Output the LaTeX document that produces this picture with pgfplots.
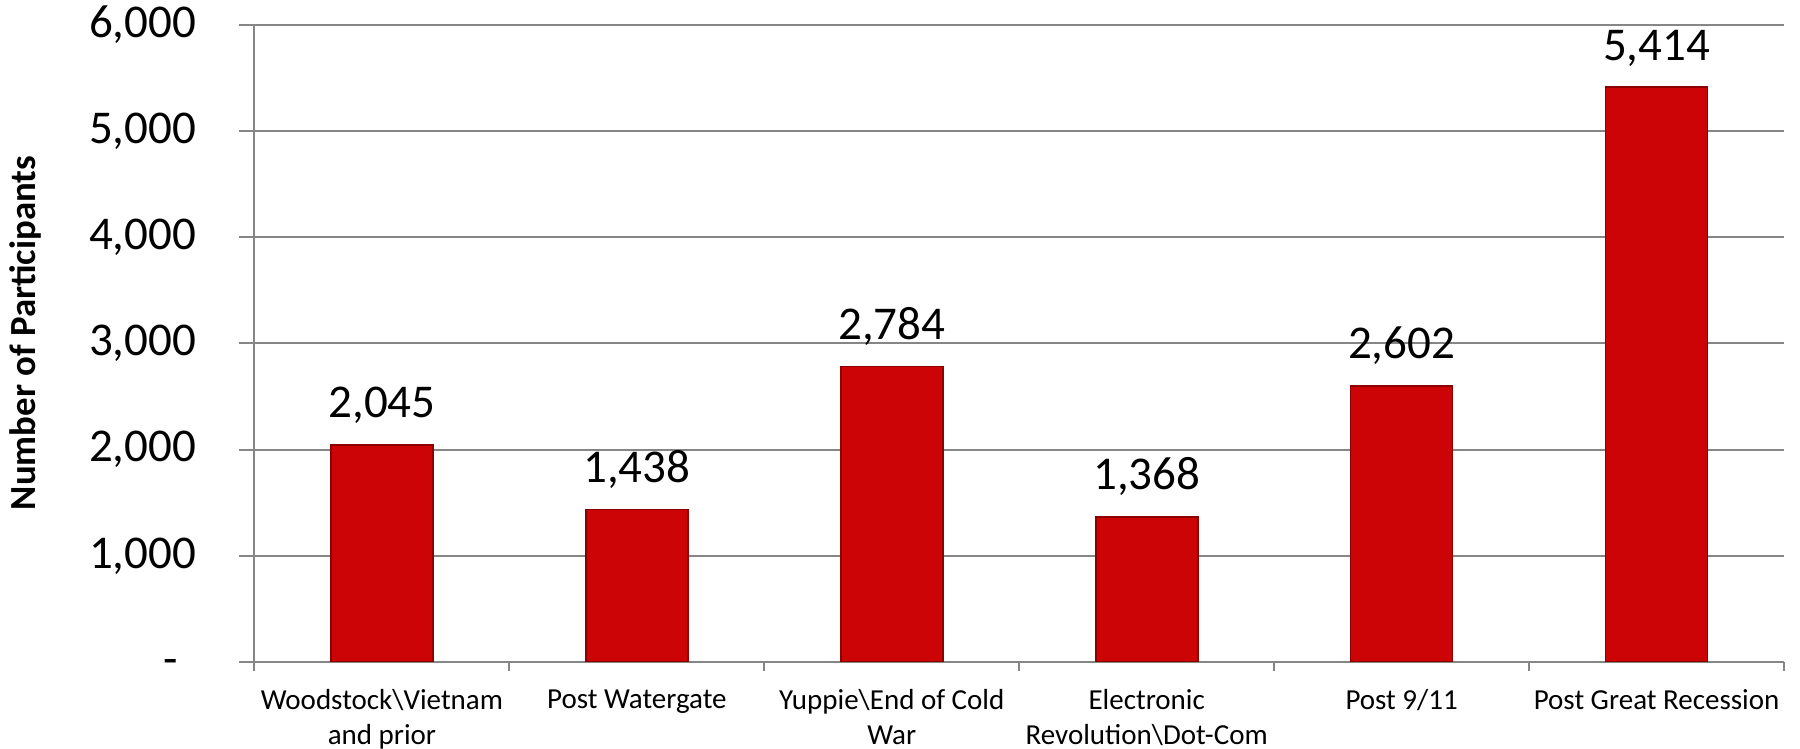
\documentclass[border=0pt]{standalone}
\usepackage{fontspec}
\setmainfont{Carlito}
\usepackage{pgfplots}
\pgfplotsset{compat=1.18}
\definecolor{gridgray}{RGB}{134,134,134}
\definecolor{barred}{RGB}{204,4,6}
\definecolor{baredge}{RGB}{140,0,0}
\begin{document}
\begin{tikzpicture}
\begin{axis}[
  scale only axis, width=382.4pt, height=159.25pt,
  xmin=-0.5, xmax=5.5, ymin=0, ymax=6000,
  ybar, bar width=0.4,
  axis x line*=bottom, axis y line*=left,
  axis line style={gridgray, line width=0.5pt},
  ymajorgrids, grid style={gridgray, line width=0.5pt},
  tick align=outside, major tick length=3.9pt,
  ytick={0,1000,2000,3000,4000,5000,6000},
  yticklabels={{\smash{-}\rule[0.2pt]{0pt}{6pt}\rule{4.6pt}{0pt}},{1,000},{2,000},{3,000},{4,000},{5,000},{6,000}},
  ytick style={draw=gridgray, line width=0.5pt},
  yticklabel style={font=\fontsize{11.75}{14}\selectfont, inner sep=0pt, anchor=east},
  yticklabel shift=10.5pt,
  xtick={0,1,2,3,4,5},
  xticklabels={{Woodstock\textbackslash Vietnam\\and prior},{Post Watergate},{Yuppie\textbackslash End of Cold\\War},{Electronic\\Revolution\textbackslash Dot-Com},{Post 9/11},{Post Great Recession}},
  xtick style={draw=none},
  xticklabel style={font=\fontsize{7.25}{8.75}\selectfont, align=center, inner sep=0pt, anchor=north},
  xticklabel shift=2.8pt,
  extra x ticks={-0.5,0.5,1.5,2.5,3.5,4.5,5.5},
  extra x tick labels={},
  extra x tick style={major tick length=2.25pt, xtick style={draw=gridgray, line width=0.5pt}},
  ylabel={\bfseries Number of Participants},
  every axis y label/.style={at={(axis description cs:-0.15,0.5165)}, rotate=90, anchor=center, font=\fontsize{9.2}{11}\selectfont},
  nodes near coords,
  /pgf/number format/.cd, 1000 sep={,}, assume math mode=true, /pgfplots/.cd,
  every node near coord/.append style={anchor=base, yshift=6.75pt, font=\fontsize{11.75}{14}\selectfont, text=black},
]
\addplot[fill=barred, draw=baredge, line width=0.4pt] coordinates {
 (0,2045) (1,1438) (2,2784) (3,1368) (4,2602) (5,5414)
};
\end{axis}
\pgfresetboundingbox
\path[use as bounding box] ([xshift=-63.625pt,yshift=-21.75pt]current axis.south west) rectangle ([xshift=4pt,yshift=6.25pt]current axis.north east);
\end{tikzpicture}
\end{document}
